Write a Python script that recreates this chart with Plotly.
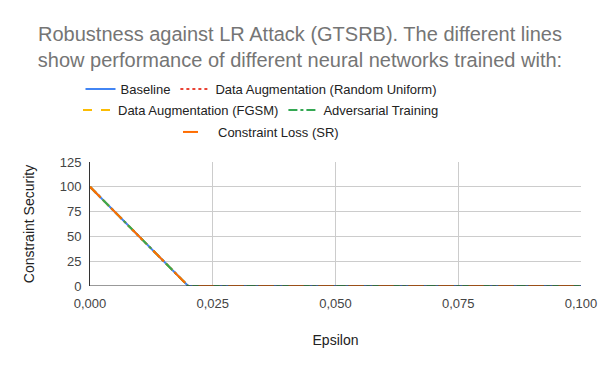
import plotly.graph_objects as go

epsilon = [0.0, 0.01, 0.02, 0.03, 0.04, 0.05, 0.06, 0.07, 0.08, 0.09, 0.1]
baseline = [100, 50, 0, 0, 0, 0, 0, 0, 0, 0, 0]
aug_uniform = [100, 50, 0, 0, 0, 0, 0, 0, 0, 0, 0]
aug_fgsm = [100, 50, 0, 0, 0, 0, 0, 0, 0, 0, 0]
adv_training = [100, 50, 0, 0, 0, 0, 0, 0, 0, 0, 0]
constraint_loss = [100, 50, 0, 0, 0, 0, 0, 0, 0, 0, 0]

y_ticks = [0, 25, 50, 75, 100, 125]
x_ticks = [0.0, 0.025, 0.05, 0.075, 0.1]
x_labels = ["0,000", "0,025", "0,050", "0,075", "0,100"]

series = [
    ("Baseline", baseline, "#4285F4", "solid", "legend"),
    ("Data Augmentation (Random Uniform)", aug_uniform, "#EA4335", "dot", "legend"),
    ("Data Augmentation (FGSM)", aug_fgsm, "#FBBC04", "dash", "legend2"),
    ("Adversarial Training", adv_training, "#34A853", "dashdot", "legend2"),
    ("Constraint Loss (SR)", constraint_loss, "#FF6D01", "longdash", "legend3"),
]

fig = go.Figure()
for name, vals, color, dash, leg in series:
    fig.add_trace(
        go.Scatter(
            x=epsilon,
            y=vals,
            name=name,
            mode="lines",
            line=dict(color=color, width=2, dash=dash),
            legend=leg,
        )
    )

# plot area in pixels: left 90, right 581, top 162, bottom 286
plot_h = 124
legend_style = dict(
    orientation="h",
    xanchor="center",
    x=(261 - 90) / 491,
    yanchor="middle",
    yref="paper",
    font=dict(size=13, color="#222222"),
    bgcolor="rgba(0,0,0,0)",
    itemwidth=30,
    tracegroupgap=0,
)

fig.update_layout(
    width=600,
    height=371,
    margin=dict(l=90, r=19, t=162, b=85, autoexpand=False),
    paper_bgcolor="white",
    plot_bgcolor="white",
    font=dict(family="Liberation Sans, Arial, sans-serif", color="#444444"),
    title=dict(
        text="Robustness against LR Attack (GTSRB). The different lines<br>show performance of different neural networks trained with:",
        x=0.5,
        xanchor="center",
        y=1 - 41 / 371,
        yanchor="top",
        font=dict(size=20, color="#757575"),
    ),
    legend=dict(legend_style, y=(286 - 89) / plot_h),
    legend2=dict(legend_style, y=(286 - 110) / plot_h),
    legend3=dict(legend_style, y=(286 - 132) / plot_h),
    showlegend=True,
)

fig.update_xaxes(
    range=[0, 0.1],
    tickvals=x_ticks,
    ticktext=x_labels,
    showgrid=True,
    gridcolor="#cccccc",
    zeroline=False,
    showline=False,
    automargin=False,
    ticklabelstandoff=8,
    tickfont=dict(size=13, color="#444444"),
    title=dict(text="Epsilon", font=dict(size=14, color="#222222"), standoff=25),
)
fig.update_yaxes(
    range=[0, 125],
    tickvals=y_ticks,
    showgrid=True,
    gridcolor="#cccccc",
    zeroline=False,
    showline=True,
    linecolor="#333333",
    linewidth=1,
    automargin=False,
    ticklabelstandoff=5,
    tickfont=dict(size=13, color="#444444"),
    title=dict(text="Constraint Security", font=dict(size=14, color="#222222"), standoff=21),
)
fig.add_hline(y=0, line=dict(color="#333333", width=1))

fig.write_html(
    "out.html",
    config={"displayModeBar": False},
    post_script="document.body.style.margin='0';",
)
